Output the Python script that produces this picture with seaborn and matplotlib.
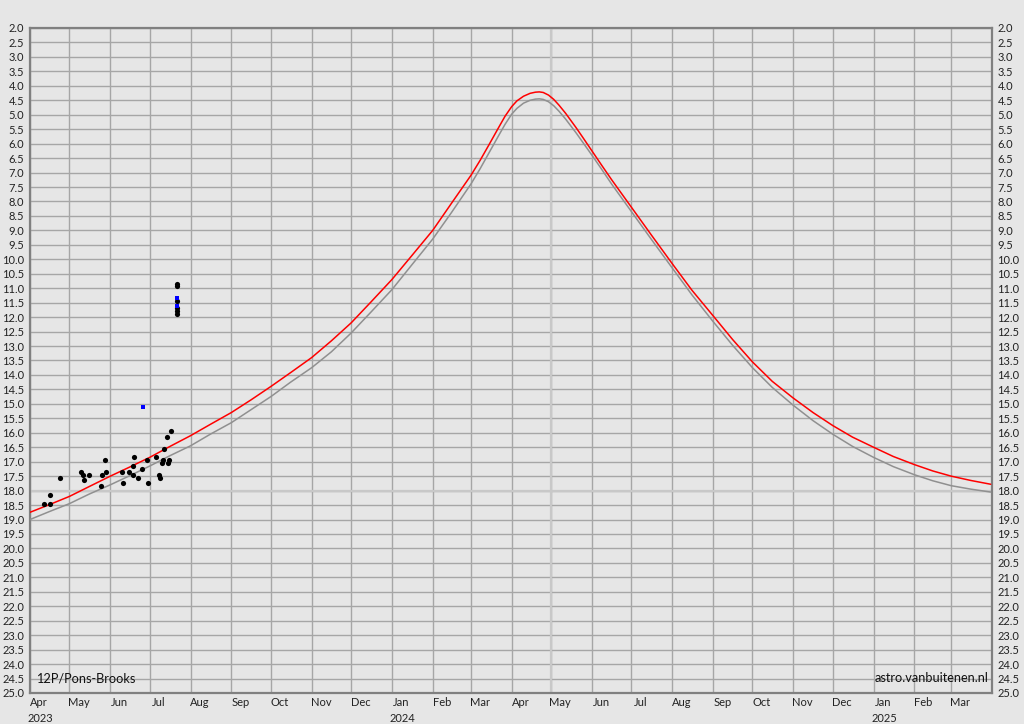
import pandas as pd
import matplotlib
matplotlib.use("Agg")
import matplotlib.pyplot as plt
import matplotlib.transforms as mtransforms
import seaborn as sns

# light curve model
curve_dates = [
    "2023-04-01", "2023-04-16", "2023-05-01", "2023-05-16", "2023-06-01", "2023-06-16",
    "2023-07-01", "2023-07-16", "2023-08-01", "2023-08-16", "2023-09-01", "2023-09-16",
    "2023-10-01", "2023-10-16", "2023-11-01", "2023-11-16", "2023-12-01", "2023-12-16",
    "2024-01-01", "2024-01-16", "2024-02-01", "2024-02-15", "2024-03-01", "2024-03-08",
    "2024-03-15", "2024-03-22", "2024-03-27",
    "2024-04-01", "2024-04-05", "2024-04-10", "2024-04-15", "2024-04-19", "2024-04-22",
    "2024-04-25", "2024-04-29",
    "2024-05-03", "2024-05-07", "2024-05-12", "2024-05-16", "2024-05-20", "2024-05-25",
    "2024-06-01", "2024-06-08", "2024-06-16",
    "2024-07-01", "2024-07-16", "2024-08-01", "2024-08-16", "2024-09-01", "2024-09-16",
    "2024-10-01", "2024-10-16", "2024-11-01", "2024-11-16", "2024-12-01", "2024-12-16",
    "2025-01-01", "2025-01-16", "2025-02-01", "2025-02-15", "2025-03-01", "2025-03-16",
    "2025-03-31",
]
red_mag = [
    18.75, 18.48, 18.2, 17.86, 17.5, 17.18,
    16.85, 16.48, 16.1, 15.71, 15.3, 14.86,
    14.4, 13.92, 13.4, 12.82, 12.2, 11.48,
    10.7, 9.88, 9.0, 8.08, 7.1, 6.58,
    6.02, 5.45, 5.05,
    4.72, 4.52, 4.36, 4.26, 4.22, 4.21,
    4.23, 4.32,
    4.47, 4.67, 4.95, 5.2, 5.45, 5.78,
    6.25, 6.72, 7.25,
    8.2, 9.15, 10.15, 11.07, 11.95, 12.78,
    13.55, 14.22, 14.8, 15.3, 15.75, 16.15,
    16.5, 16.82, 17.1, 17.32, 17.5, 17.65,
    17.78,
]
gray_mag = [
    19.0, 18.72, 18.45, 18.12, 17.8, 17.48,
    17.15, 16.8, 16.45, 16.05, 15.65, 15.2,
    14.75, 14.25, 13.75, 13.2, 12.55, 11.83,
    11.05, 10.2, 9.3, 8.4, 7.4, 6.87,
    6.3, 5.73, 5.33,
    4.98, 4.78, 4.6, 4.5, 4.46, 4.45,
    4.47, 4.55,
    4.69, 4.88, 5.15, 5.39, 5.63, 5.95,
    6.4, 6.86, 7.4,
    8.35, 9.3, 10.3, 11.23, 12.15, 12.98,
    13.75, 14.43, 15.05, 15.58, 16.05, 16.47,
    16.85, 17.17, 17.45, 17.66, 17.83, 17.95,
    18.05,
]

# observations
obs_dates = [
    "2023-04-12", "2023-04-16", "2023-04-16", "2023-04-24", "2023-05-10",
    "2023-05-11", "2023-05-12", "2023-05-16", "2023-05-25", "2023-05-26",
    "2023-05-28", "2023-05-29", "2023-06-10", "2023-06-11", "2023-06-15",
    "2023-06-18", "2023-06-18", "2023-06-19", "2023-06-22", "2023-06-25",
    "2023-06-29", "2023-06-30", "2023-07-06", "2023-07-08", "2023-07-09",
    "2023-07-10", "2023-07-11", "2023-07-12", "2023-07-14", "2023-07-15",
    "2023-07-16", "2023-07-17", "2023-07-22", "2023-07-22", "2023-07-22",
    "2023-07-22", "2023-07-22", "2023-07-22",
]
obs_mag = [
    18.45, 18.45, 18.15, 17.55, 17.35,
    17.45, 17.65, 17.45, 17.85, 17.45,
    16.95, 17.35, 17.35, 17.75, 17.35,
    17.45, 17.15, 16.85, 17.55, 17.25,
    16.95, 17.75, 16.85, 17.45, 17.55,
    17.05, 16.95, 16.55, 16.15, 17.05,
    16.95, 15.95, 10.85, 10.93, 11.45,
    11.7, 11.8, 11.9,
]
blue_dates = ["2023-06-26", "2023-07-22", "2023-07-22"]
blue_mag = [15.1, 11.35, 11.6]

month_ticks = pd.date_range("2023-04-01", "2025-04-01", freq="MS")
label_ticks = month_ticks[:-1] + pd.Timedelta(days=7)
year_labels = {"2023": "2023-04-09", "2024": "2024-01-09", "2025": "2025-01-09"}

curve = pd.DataFrame({"date": pd.to_datetime(curve_dates), "red": red_mag, "gray": gray_mag})
obs = pd.DataFrame({"date": pd.to_datetime(obs_dates), "mag": obs_mag})
blue = pd.DataFrame({"date": pd.to_datetime(blue_dates), "mag": blue_mag})

sns.set_style("whitegrid", {
    "axes.facecolor": "#e6e6e6",
    "figure.facecolor": "#e6e6e6",
    "grid.color": "#a6a6a6",
    "axes.edgecolor": "#808080",
})
plt.rcParams["font.family"] = ["Lato", "DejaVu Sans"]

fig = plt.figure(figsize=(10.24, 7.24), dpi=100)
ax = fig.add_axes([30 / 1024, 31 / 724, 962 / 1024, 665 / 724])

# lighter marker lines
ax.axvline(pd.Timestamp("2024-05-01"), color="#c8c8c8", lw=1.6, zorder=1)
ax.axhline(18.0, color="#c8c8c8", lw=1.6, zorder=1)

sns.lineplot(data=curve, x="date", y="gray", color="#909090", lw=1.1, ax=ax, zorder=3)
sns.lineplot(data=curve, x="date", y="red", color="#ff0000", lw=1.1, ax=ax, zorder=4)
sns.scatterplot(data=obs, x="date", y="mag", color="black", s=14, linewidth=0, ax=ax, zorder=5)
sns.scatterplot(data=blue, x="date", y="mag", color="#0000ff", marker="s", s=9, linewidth=0, ax=ax, zorder=6)

ax.set_xlim(month_ticks[0], month_ticks[-1])
ax.set_ylim(25, 2)
ax.set_yticks([2 + 0.5 * i for i in range(47)])
ax.yaxis.set_major_formatter(matplotlib.ticker.FormatStrFormatter("%.1f"))
ax.tick_params(axis="y", labelright=True, length=0, pad=4, labelsize=8, labelcolor="#222222")

ax.set_xticks(month_ticks)
ax.set_xticklabels([])
ax.set_xticks(label_ticks, minor=True)
ax.set_xticklabels([d.strftime("%b") for d in label_ticks], minor=True)
ax.tick_params(axis="x", which="both", length=0, labelsize=8, labelcolor="#222222", pad=3)
ax.grid(True, which="major", color="#a6a6a6", lw=1)
ax.grid(False, which="minor")
ax.set_axisbelow(True)

trans = mtransforms.blended_transform_factory(ax.transData, ax.transAxes)
for label, d in year_labels.items():
    ax.text(pd.Timestamp(d), -0.038, label, transform=trans, ha="center", va="center",
            fontsize=8, color="#222222")

for side in ["left", "right", "top", "bottom"]:
    ax.spines[side].set_color("#808080")
    ax.spines[side].set_linewidth(1.6)

ax.set_xlabel("")
ax.set_ylabel("")
ax.text(0.006, 0.013, "12P/Pons-Brooks", transform=ax.transAxes, fontsize=9.2,
        ha="left", va="bottom", color="#111111")
ax.text(0.996, 0.013, "astro.vanbuitenen.nl", transform=ax.transAxes, fontsize=9.2,
        ha="right", va="bottom", color="#111111")

fig.savefig("out.png", dpi=100, facecolor=fig.get_facecolor())
